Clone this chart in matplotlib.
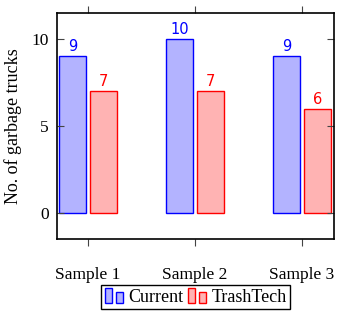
import matplotlib
matplotlib.use("Agg")
import matplotlib.pyplot as plt
from matplotlib.patches import Rectangle
from matplotlib.legend_handler import HandlerBase

categories = ["Sample 1", "Sample 2", "Sample 3"]
current = [9, 10, 9]
trashtech = [7, 7, 6]
yticks = [0, 5, 10]

blue_edge, blue_fill = "#0000ff", "#b3b3ff"
red_edge, red_fill = "#ff0000", "#ffb3b3"


class TwoBarHandler(HandlerBase):
    # pgfplots style ybar legend: two little bars side by side
    def create_artists(self, legend, orig_handle, xdescent, ydescent,
                       width, height, fontsize, trans):
        fc = orig_handle.get_facecolor()
        ec = orig_handle.get_edgecolor()
        w = width * 0.3
        r1 = Rectangle((-xdescent + width * 0.05, -ydescent - height * 0.1), w, height * 1.2,
                       facecolor=fc, edgecolor=ec, lw=1.0, transform=trans)
        r2 = Rectangle((-xdescent + width * 0.55, -ydescent - height * 0.1), w, height * 0.9,
                       facecolor=fc, edgecolor=ec, lw=1.0, transform=trans)
        return [r1, r2]


plt.rcParams["font.family"] = ["Liberation Serif"]

fig = plt.figure(figsize=(3.49, 3.18), dpi=100)
ax = fig.add_axes([57 / 349, 1 - 239 / 318, 277 / 349, 226 / 318])

x = list(range(len(categories)))
bw = 0.25
off = 0.145
b1 = ax.bar([i - off for i in x], current, width=bw, color=blue_fill,
            edgecolor=blue_edge, linewidth=1.0, label="Current")
b2 = ax.bar([i + off for i in x], trashtech, width=bw, color=red_fill,
            edgecolor=red_edge, linewidth=1.0, label="TrashTech")

for bars, vals, col in [(b1, current, blue_edge), (b2, trashtech, red_edge)]:
    for rect, v in zip(bars, vals):
        ax.annotate(str(v), (rect.get_x() + rect.get_width() / 2, v),
                    xytext=(0, 1.5), textcoords="offset points",
                    ha="center", va="bottom", color=col, fontsize=10.5,
                    family="DejaVu Sans")

ax.set_xlim(-0.29, 2.3)
ax.set_ylim(-1.5, 11.5)
ax.set_xticks(x)
ax.set_xticklabels(categories, fontsize=12.5)
ax.set_yticks(yticks)
ax.set_yticklabels([str(t) for t in yticks], fontsize=12.5)
ax.tick_params(axis="x", direction="out", top=True, length=5, width=0.8,
               color="#444444", pad=15)
ax.tick_params(axis="y", direction="in", right=True, length=5, width=0.8,
               color="#444444", pad=6)
for s in ax.spines.values():
    s.set_linewidth(1.2)
ax.set_ylabel("No. of garbage trucks", fontsize=13, labelpad=7)

h1, h2 = b1.patches[0], b2.patches[0]
fig.legend(handles=[h1, h2], labels=["Current", "TrashTech"],
           handler_map={h1: TwoBarHandler(), h2: TwoBarHandler()},
           loc="upper center", bbox_to_anchor=(195.5 / 349, 1 - 285 / 318),
           ncol=2, fontsize=13, frameon=True, fancybox=False,
           edgecolor="black", framealpha=1, handlelength=1.2,
           handletextpad=0.15, columnspacing=0.2, borderpad=0.2,
           borderaxespad=0)

fig.savefig("out.png", dpi=100)
